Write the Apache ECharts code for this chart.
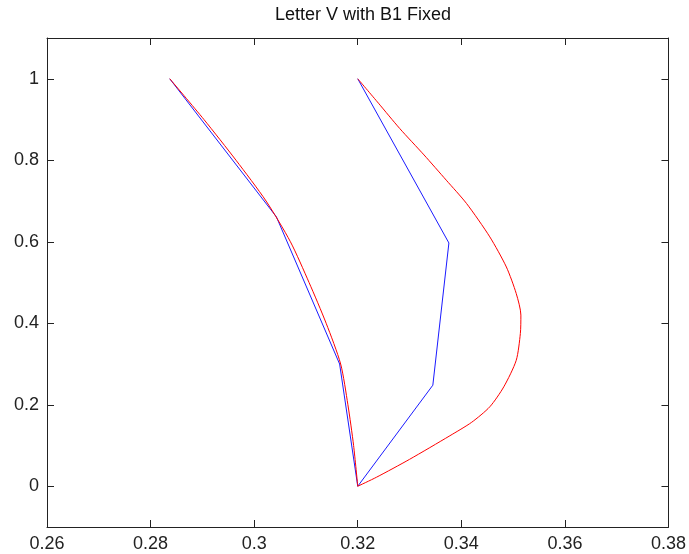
<!DOCTYPE html>
<html lang="en">
<head>
    <meta charset="UTF-8">
    <title>Letter V with B1 Fixed</title>
    <script src="https://cdn.jsdelivr.net/npm/echarts@6/dist/echarts.min.js"></script>
    <style>
        html, body { margin: 0; padding: 0; background: #fff; }
        #main { width: 689px; height: 554px; }
    </style>
</head>
<body>
<div id="main"></div>
<script>
    // tick positions
    var xTicks = [0.26, 0.28, 0.30, 0.32, 0.34, 0.36, 0.38];
    var yTicks = [0, 0.2, 0.4, 0.6, 0.8, 1];

    // control polygon (blue), [x, y]
    var bluePoly = [
        [0.2837, 1.0], [0.3043, 0.661], [0.3165, 0.300], [0.3200, 0.0],
        [0.3345, 0.248], [0.3376, 0.597], [0.3200, 1.0]
    ];

    // fitted curve, left stroke (red)
    var redLeft = [
        [0.2837, 1.0], [0.2903, 0.9], [0.2965, 0.8], [0.3023, 0.7], [0.3070, 0.6],
        [0.3106, 0.5], [0.3139, 0.4], [0.3167, 0.3], [0.3181, 0.2], [0.3192, 0.1], [0.3200, 0.0]
    ];

    // fitted curve, right stroke (red)
    var redRight = [
        [0.3200, 1.0], [0.3240, 0.940], [0.3281, 0.878], [0.3328, 0.813], [0.3371, 0.751],
        [0.3410, 0.694], [0.3455, 0.612], [0.3487, 0.538], [0.3506, 0.473], [0.3515, 0.420],
        [0.3514, 0.375], [0.3506, 0.309], [0.3482, 0.244], [0.3455, 0.195], [0.3420, 0.157],
        [0.3378, 0.124], [0.3300, 0.066], [0.3236, 0.022], [0.3200, 0.0]
    ];

    var myChart = echarts.init(document.getElementById('main'), null, {renderer: 'canvas'});
    var font = 'Liberation Sans, Arial, sans-serif';

    function axisBase(extra) {
        var a = {
            type: 'value',
            axisLine: {show: true, onZero: false, lineStyle: {color: '#222', width: 1}},
            axisTick: {show: true, inside: true, length: 7, lineStyle: {color: '#222'}},
            splitLine: {show: false},
            axisLabel: {show: true, color: '#222', fontFamily: font, fontSize: 18, margin: 8}
        };
        for (var k in extra) a[k] = extra[k];
        return a;
    }

    var option = {
        animation: false,
        backgroundColor: '#fff',
        title: {
            text: 'Letter V with B1 Fixed',
            left: 358,
            textAlign: 'center',
            top: 1,
            textStyle: {fontFamily: font, fontSize: 18, fontWeight: 'normal', color: '#111'}
        },
        grid: {left: 47, right: 20, top: 38, bottom: 27, containLabel: false},
        xAxis: [
            axisBase({position: 'bottom', min: 0.26, max: 0.38}),
            axisBase({position: 'top', min: 0.26, max: 0.38})
        ],
        yAxis: [
            axisBase({position: 'left', min: -0.1, max: 1.1}),
            axisBase({position: 'right', min: -0.1, max: 1.1})
        ],
        series: [
            {
                name: 'polygon', type: 'line', data: bluePoly, showSymbol: false,
                lineStyle: {color: '#1a1aff', width: 1}, z: 2
            },
            {
                name: 'curveL', type: 'line', data: redLeft, showSymbol: false, smooth: 0.25,
                lineStyle: {color: '#ff0000', width: 1}, z: 3
            },
            {
                name: 'curveR', type: 'line', data: redRight, showSymbol: false, smooth: 0.25,
                lineStyle: {color: '#ff0000', width: 1}, z: 3
            }
        ]
    };

    // ticks only at the labelled values
    option.xAxis.forEach(function (ax, i) {
        ax.axisTick.customValues = xTicks;
        ax.axisLabel.customValues = xTicks;
        if (i === 1) ax.axisLabel.show = false;
    });
    option.yAxis.forEach(function (ax, i) {
        ax.axisTick.customValues = yTicks;
        ax.axisLabel.customValues = yTicks;
        if (i === 1) ax.axisLabel.show = false;
    });

    myChart.setOption(option);
</script>
</body>
</html>
